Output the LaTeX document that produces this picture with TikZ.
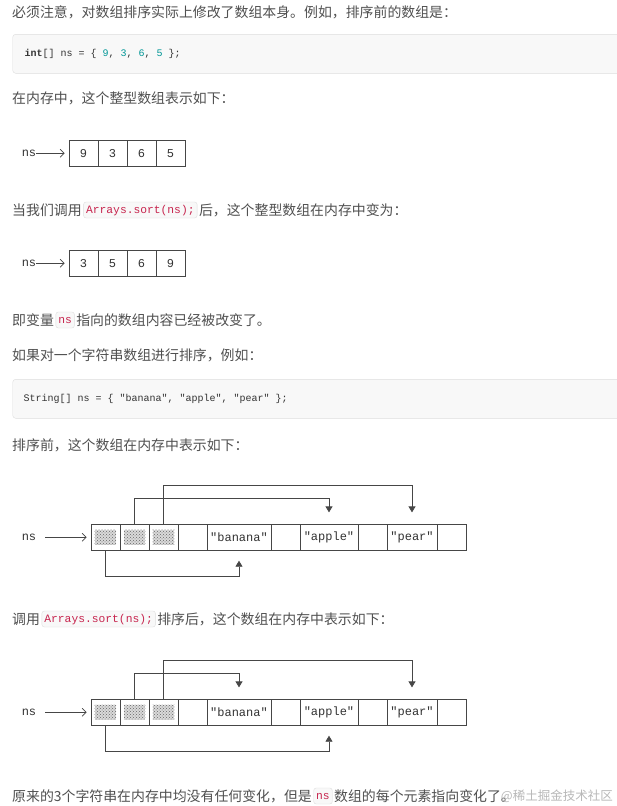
\documentclass[tikz,border=0pt]{standalone}
\usepackage{fontspec}
\setmainfont{Noto Sans CJK SC}
\newfontfamily\codefont{Liberation Mono}
\usetikzlibrary{arrows.meta,positioning,patterns}
\definecolor{txtgray}{RGB}{80,80,80}
\definecolor{codebg}{RGB}{248,248,248}
\definecolor{codeline}{RGB}{222,222,222}
\definecolor{codered}{RGB}{199,37,78}
\definecolor{numteal}{RGB}{0,150,150}
\definecolor{cellline}{RGB}{70,70,70}
\newcommand{\monospaces}{\fontdimen2\font=0.6em\fontdimen3\font=0pt\fontdimen4\font=0pt}

\begin{document}
\begin{tikzpicture}[x=1pt,y=-1pt,
    txt/.style={anchor=west,inner sep=0pt,text=txtgray,font=\fontsize{13.9}{16}\selectfont},
    icode/.style={draw=codeline,fill=codebg,rounded corners=2.5pt,text=codered,inner xsep=2.5pt,inner ysep=0pt,
      minimum height=16pt,text height=8.5pt,text depth=2.5pt,font=\codefont\fontsize{11.3}{13}\selectfont},
    codebox/.style={draw=codeline,fill=codebg,rounded corners=3pt,anchor=west,inner sep=0pt,
      minimum height=39pt,minimum width=620pt},
    codetxt/.style={anchor=west,inner sep=0pt,text=black!80,font=\codefont\fontsize{10}{12}\selectfont\monospaces},
    cell/.style={draw=cellline,line width=0.8pt,minimum height=26pt,inner sep=0pt,text=black!80,
      font=\codefont\fontsize{12}{14}\selectfont},
    lbl/.style={inner sep=0pt,text=black!80,font=\codefont\fontsize{12}{14}\selectfont},
    shade/.style={pattern=crosshatch dots,pattern color=black!60,preaction={fill=black!15}},
    ptr/.style={draw=cellline,line width=0.8pt,-{Triangle[length=6pt,width=7pt]}},
    nsarrow/.style={draw=cellline,line width=0.7pt,-{Straight Barb[length=4pt,width=8pt]}}]
  \useasboundingbox[fill=white] (0,0) rectangle (617,806);
  %%%%%%%%%%%%%%%%%%%%%%%%%%%%%%%%%%%%%%%%%%%%%%%
  \node[txt] at (12,12) (t1) {必须注意，对数组排序实际上修改了数组本身。例如，排序前的数组是：};
  \node[codebox] at (12.5,53.8) (box1) {};
  \node[codetxt,right=12pt of box1.west] (code1) {{\bfseries\monospaces int}[] ns = \{ \textcolor{numteal}{9}, \textcolor{numteal}{3}, \textcolor{numteal}{6}, \textcolor{numteal}{5} \};};
  \node[txt] at (12,98) (t2) {在内存中，这个整型数组表示如下：};
  %%%%%%%%%%%%%%%%%%%%%%%%%%%%%%%%%%%%%%%%%%%%%%%
  \node[lbl] at (29,153.3) (ns1) {ns};
  \node[cell,minimum width=29pt] at (83.5,153.3)  (n11) {9};
  \node[cell,minimum width=29pt] at (112.5,153.3) (n12) {3};
  \node[cell,minimum width=29pt] at (141.5,153.3) (n13) {6};
  \node[cell,minimum width=29pt] at (170.5,153.3) (n14) {5};
  \draw[nsarrow] (ns1.east) -- ([xshift=-4pt]n11.west);
  %%%%%%%%%%%%%%%%%%%%%%%%%%%%%%%%%%%%%%%%%%%%%%%
  \node[txt] at (12,210) (t3a) {当我们调用};
  \node[icode,right=1.5pt of t3a] (t3b) {Arrays.sort(ns);};
  \node[txt,right=1.5pt of t3b] (t3c) {后，这个整型数组在内存中变为：};
  %%%%%%%%%%%%%%%%%%%%%%%%%%%%%%%%%%%%%%%%%%%%%%%
  \node[lbl] at (29,263.3) (ns2) {ns};
  \node[cell,minimum width=29pt] at (83.5,263.3)  (n21) {3};
  \node[cell,minimum width=29pt] at (112.5,263.3) (n22) {5};
  \node[cell,minimum width=29pt] at (141.5,263.3) (n23) {6};
  \node[cell,minimum width=29pt] at (170.5,263.3) (n24) {9};
  \draw[nsarrow] (ns2.east) -- ([xshift=-4pt]n21.west);
  %%%%%%%%%%%%%%%%%%%%%%%%%%%%%%%%%%%%%%%%%%%%%%%
  \node[txt] at (12,320) (t4a) {即变量};
  \node[icode,right=1.5pt of t4a] (t4b) {ns};
  \node[txt,right=1.5pt of t4b] (t4c) {指向的数组内容已经被改变了。};
  \node[txt] at (12,355) (t5) {如果对一个字符串数组进行排序，例如：};
  \node[codebox] at (12.5,398.8) (box2) {};
  \node[codetxt,right=11pt of box2.west] (code2) {String[] ns = \{ "banana", "apple", "pear" \};};
  \node[txt] at (12,445) (t6) {排序前，这个数组在内存中表示如下：};
  %%%%%%%%%%%%%%%%%%%%%%%%%%%%%%%%%%%%%%%%%%%%%%%
  \node[lbl] at (29,537.3) (ns3) {ns};
  \node[cell,minimum width=29pt] at (105.5,537.3) (a31) {};
  \node[cell,minimum width=29pt] at (134.5,537.3) (a32) {};
  \node[cell,minimum width=29pt] at (163.5,537.3) (a33) {};
  \node[cell,minimum width=29pt] at (192.5,537.3) (a34) {};
  \node[cell,minimum width=64pt] at (239,537.3)   (ba3) {"banana"};
  \node[cell,minimum width=29pt] at (285.5,537.3) (a36) {};
  \node[cell,minimum width=58pt] at (329,537.3)   (ap3) {"apple"};
  \node[cell,minimum width=29pt] at (372.5,537.3) (a38) {};
  \node[cell,minimum width=50pt] at (412,537.3)   (pe3) {"pear"};
  \node[cell,minimum width=29pt] at (451.5,537.3) (a310) {};
  \foreach \c in {a31,a32,a33}
    \fill[shade] ([xshift=4pt,yshift=-6pt]\c.north west) rectangle ([xshift=-4pt,yshift=6pt]\c.south east);
  \draw[nsarrow] ([xshift=9pt]ns3.east) -- ([xshift=-4pt]a31.west);
  \draw[ptr] (a32.north) -- ++(0,-26) -| ([yshift=11.5pt]ap3.north);
  \draw[ptr] (a33.north) -- ++(0,-38.6) -| ([yshift=11.5pt]pe3.north);
  \draw[ptr] (a31.south) -- ++(0,26) -| ([yshift=-10pt]ba3.south);
  %%%%%%%%%%%%%%%%%%%%%%%%%%%%%%%%%%%%%%%%%%%%%%%
  \node[txt] at (12,619) (t7a) {调用};
  \node[icode,right=1.5pt of t7a] (t7b) {Arrays.sort(ns);};
  \node[txt,right=1.5pt of t7b] (t7c) {排序后，这个数组在内存中表示如下：};
  %%%%%%%%%%%%%%%%%%%%%%%%%%%%%%%%%%%%%%%%%%%%%%%
  \node[lbl] at (29,712.3) (ns4) {ns};
  \node[cell,minimum width=29pt] at (105.5,712.3) (a41) {};
  \node[cell,minimum width=29pt] at (134.5,712.3) (a42) {};
  \node[cell,minimum width=29pt] at (163.5,712.3) (a43) {};
  \node[cell,minimum width=29pt] at (192.5,712.3) (a44) {};
  \node[cell,minimum width=64pt] at (239,712.3)   (ba4) {"banana"};
  \node[cell,minimum width=29pt] at (285.5,712.3) (a46) {};
  \node[cell,minimum width=58pt] at (329,712.3)   (ap4) {"apple"};
  \node[cell,minimum width=29pt] at (372.5,712.3) (a48) {};
  \node[cell,minimum width=50pt] at (412,712.3)   (pe4) {"pear"};
  \node[cell,minimum width=29pt] at (451.5,712.3) (a410) {};
  \foreach \c in {a41,a42,a43}
    \fill[shade] ([xshift=4pt,yshift=-6pt]\c.north west) rectangle ([xshift=-4pt,yshift=6pt]\c.south east);
  \draw[nsarrow] ([xshift=9pt]ns4.east) -- ([xshift=-4pt]a41.west);
  \draw[ptr] (a42.north) -- ++(0,-26) -| ([yshift=11.5pt]ba4.north);
  \draw[ptr] (a43.north) -- ++(0,-38.6) -| ([yshift=11.5pt]pe4.north);
  \draw[ptr] (a41.south) -- ++(0,26) -| ([yshift=-10pt]ap4.south);
  %%%%%%%%%%%%%%%%%%%%%%%%%%%%%%%%%%%%%%%%%%%%%%%
  \node[txt] at (12,796) (t8a) {原来的3个字符串在内存中均没有任何变化，但是};
  \node[icode,right=1.5pt of t8a] (t8b) {ns};
  \node[txt,right=1.5pt of t8b] (t8c) {数组的每个元素指向变化了。};
  \node[anchor=east,inner sep=0pt,text=black!28,font=\fontsize{12.5}{14}\selectfont] at (613,796) (wm) {@稀土掘金技术社区};
\end{tikzpicture}
\end{document}
